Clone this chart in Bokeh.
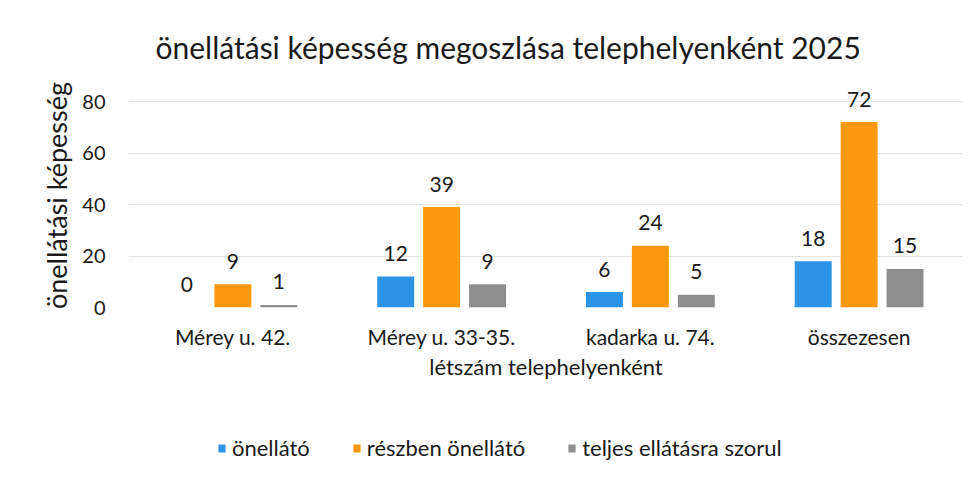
from bokeh.plotting import figure
from bokeh.models import ColumnDataSource, FactorRange, Range1d, Legend, LegendItem
from bokeh.layouts import column
from bokeh.transform import dodge
from bokeh.core.properties import value
from bokeh.embed import file_html
from bokeh.resources import INLINE

categories = ["Mérey u. 42.", "Mérey u. 33-35.", "kadarka u. 74.", "összezesen"]
series_names = ["önellátó", "részben önellátó", "teljes ellátásra szorul"]
onellato = [0, 12, 6, 18]
reszben = [9, 39, 24, 72]
teljes = [1, 9, 5, 15]
y_ticks = [0, 20, 40, 60, 80]
colors = ["#2B94E6", "#FF9811", "#8E8E8E"]

FONT = "Lato"
TXT = "#1a1a1a"

src = ColumnDataSource(dict(cat=categories, a=onellato, b=reszben, c=teljes,
                            la=[str(v) for v in onellato],
                            lb=[str(v) for v in reszben],
                            lc=[str(v) for v in teljes]))

p = figure(width=963, height=400, output_backend="svg", toolbar_location=None,
           x_range=FactorRange(*categories, range_padding=0), y_range=Range1d(0, 87),
           min_border_left=128, min_border_right=0, min_border_top=83, min_border_bottom=93)

p.title.text = "önellátási képesség megoszlása telephelyenként 2025"
p.title.align = "left"
p.title.offset = 27
p.title.standoff = 37
p.title.text_font = FONT
p.title.text_font_size = "30px"
p.title.text_font_style = "normal"
p.title.text_color = TXT

cols = ["a", "b", "c"]
labs = ["la", "lb", "lc"]
offsets = [-0.22, 0.0, 0.22]
for col, lab, off, color in zip(cols, labs, offsets, colors):
    p.vbar(x=dodge("cat", off, range=p.x_range), top=col, width=0.177, source=src,
           fill_color=color, line_color=None)
    p.text(x=dodge("cat", off, range=p.x_range), y=col, text=lab, source=src,
           text_align="center", text_baseline="alphabetic", y_offset=-23,
           text_font=value(FONT), text_font_size="21px", text_color=TXT)

p.yaxis.ticker = y_ticks
p.yaxis.axis_label = "önellátási képesség"
p.xaxis.axis_label = "létszám telephelyenként"
for ax in (p.xaxis, p.yaxis):
    ax.axis_line_color = None
    ax.major_tick_line_color = None
    ax.minor_tick_line_color = None
    ax.major_tick_out = 0
    ax.major_tick_in = 0
    ax.minor_tick_out = 0
    ax.major_label_text_font = FONT
    ax.major_label_text_color = TXT
    ax.axis_label_text_font = FONT
    ax.axis_label_text_font_style = "normal"
    ax.axis_label_text_color = TXT
p.yaxis.major_label_text_font_size = "20px"
p.xaxis.major_label_text_font_size = "21px"
p.yaxis.axis_label_text_font_size = "27px"
p.xaxis.axis_label_text_font_size = "22px"
p.yaxis.major_label_standoff = 23
p.xaxis.major_label_standoff = 16
p.xaxis.axis_label_standoff = 1
p.yaxis.axis_label_standoff = 6

p.xgrid.grid_line_color = None
p.ygrid.grid_line_color = "#E3E3E3"
p.outline_line_color = None

# legend strip below the chart; its swatches use the same series styles,
# as zero-height bars placed far outside the strip's value window
lg = figure(width=963, height=70, output_backend="svg", toolbar_location=None,
            x_range=FactorRange(*categories, range_padding=0), y_range=Range1d(1000, 1010),
            x_axis_location=None, y_axis_location=None,
            min_border_left=0, min_border_right=0, min_border_top=0, min_border_bottom=0)
lg.grid.grid_line_color = None
lg.outline_line_color = None
items = []
for col, off, color, name in zip(cols, offsets, colors, series_names):
    r = lg.vbar(x=dodge("cat", off, range=lg.x_range), top=col, bottom=col, width=0.177,
                source=src, fill_color=color, line_color=None)
    items.append(LegendItem(label=name, renderers=[r]))

legend = Legend(items=items, orientation="horizontal", location=(89, 9),
                glyph_width=9, glyph_height=10, label_text_font=FONT,
                label_text_font_size="22px", label_text_color=TXT,
                spacing=42, label_standoff=6, padding=0, margin=0,
                border_line_color=None, background_fill_alpha=0)
lg.add_layout(legend, "center")

layout = column(p, lg, spacing=0)
open("out.html", "w").write(file_html(layout, INLINE))
